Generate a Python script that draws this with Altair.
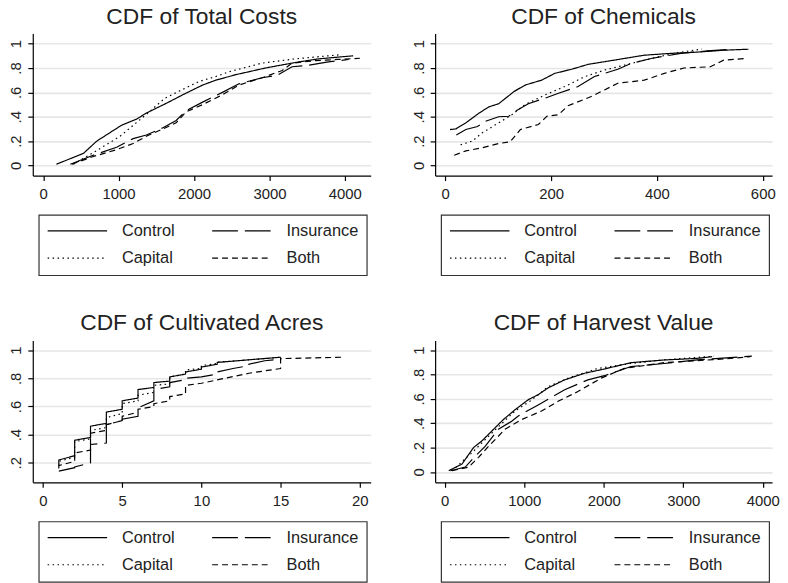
import altair as alt
import pandas as pd

FONT = "Liberation Sans"
TEXT = "#222222"
# legend entries fill column by column: Control, Capital | Insurance, Both
SERIES = ["Control", "Capital", "Insurance", "Both"]
DASHES = [[1, 0], [1.5, 3.5], [26, 7], [6, 4]]

# ---------------- CDF of Total Costs ----------------
TC_CONTROL_X = [175, 535, 710, 1039, 1237, 1368, 1632, 1851, 2114, 2289, 2553, 2947, 3342, 3649, 4110]
TC_CONTROL_Y = [0.01, 0.10, 0.20, 0.33, 0.38, 0.43, 0.51, 0.58, 0.66, 0.70, 0.745, 0.80, 0.845, 0.875, 0.90]
TC_INSUR_X = [360, 645, 974, 1193, 1368, 1588, 1763, 1895, 2114, 2377, 2596, 2904, 3100, 3300, 3500, 3781, 4050]
TC_INSUR_Y = [0.01, 0.08, 0.15, 0.22, 0.25, 0.31, 0.37, 0.45, 0.52, 0.60, 0.67, 0.72, 0.74, 0.81, 0.82, 0.85, 0.87]
TC_CAPITAL_X = [400, 650, 1020, 1370, 1610, 1900, 2070, 2290, 2470, 2900, 3340, 3960]
TC_CAPITAL_Y = [0.01, 0.10, 0.24, 0.42, 0.55, 0.64, 0.69, 0.73, 0.77, 0.84, 0.875, 0.91]
TC_BOTH_X = [380, 645, 974, 1193, 1368, 1588, 1763, 1895, 2114, 2377, 2596, 2904, 3170, 3300, 3600, 3900, 4200]
TC_BOTH_Y = [0.01, 0.07, 0.13, 0.18, 0.24, 0.30, 0.35, 0.44, 0.50, 0.58, 0.66, 0.72, 0.78, 0.84, 0.86, 0.87, 0.88]

# ---------------- CDF of Chemicals ----------------
CH_CONTROL_X = [9, 20, 39, 64, 82, 101, 130, 151, 182, 207, 239, 270, 320, 376, 426, 476, 526, 573]
CH_CONTROL_Y = [0.295, 0.30, 0.35, 0.43, 0.48, 0.507, 0.607, 0.66, 0.70, 0.756, 0.79, 0.83, 0.865, 0.905, 0.92, 0.93, 0.946, 0.954]
CH_INSUR_X = [21, 39, 61, 76, 101, 120, 132, 157, 189, 214, 251, 282, 326, 351, 389, 445, 495, 545]
CH_INSUR_Y = [0.25, 0.295, 0.32, 0.363, 0.40, 0.404, 0.444, 0.507, 0.553, 0.593, 0.648, 0.73, 0.79, 0.837, 0.878, 0.92, 0.94, 0.954]
CH_CAPITAL_X = [29, 51, 70, 101, 126, 151, 189, 226, 264, 301, 351, 401, 445, 485]
CH_CAPITAL_Y = [0.17, 0.20, 0.268, 0.35, 0.417, 0.50, 0.58, 0.648, 0.73, 0.783, 0.837, 0.89, 0.93, 0.955]
CH_BOTH_X = [17, 39, 70, 101, 123, 142, 176, 192, 214, 232, 276, 301, 326, 376, 414, 451, 501, 526, 567]
CH_BOTH_Y = [0.084, 0.12, 0.146, 0.18, 0.195, 0.295, 0.336, 0.404, 0.417, 0.49, 0.566, 0.62, 0.675, 0.70, 0.756, 0.80, 0.81, 0.864, 0.878]

# ---------------- CDF of Cultivated Acres ----------------
CA_CONTROL_X = [1, 1, 2, 2, 3, 3, 4, 4, 5, 5, 6, 6, 7, 7, 8, 8, 9, 9, 10, 10, 11, 11, 15]
CA_CONTROL_Y = [0.19, 0.22, 0.25, 0.36, 0.38, 0.46, 0.48, 0.56, 0.58, 0.64, 0.66, 0.72, 0.735, 0.77, 0.78, 0.81, 0.83, 0.845, 0.865, 0.88, 0.90, 0.913, 0.95]
CA_INSUR_X = [1, 2, 2, 3, 3, 4, 4, 5, 5, 6, 6, 7, 7, 8, 8, 9, 9, 10, 11, 11, 12, 13, 13, 14, 15, 15]
CA_INSUR_Y = [0.14, 0.165, 0.17, 0.20, 0.33, 0.34, 0.47, 0.50, 0.51, 0.53, 0.59, 0.64, 0.72, 0.74, 0.77, 0.79, 0.80, 0.81, 0.83, 0.845, 0.87, 0.89, 0.90, 0.925, 0.935, 0.95]
CA_CAPITAL_X = [1, 1, 2, 2, 3, 3, 4, 4, 5, 5, 6, 6, 7, 7, 8, 8, 9, 9, 10, 10, 11, 11, 14, 15]
CA_CAPITAL_Y = [0.18, 0.21, 0.24, 0.35, 0.37, 0.43, 0.45, 0.52, 0.55, 0.62, 0.64, 0.68, 0.70, 0.75, 0.76, 0.81, 0.83, 0.86, 0.87, 0.89, 0.905, 0.915, 0.94, 0.95]
CA_BOTH_X = [1, 1, 2, 2, 3, 3, 4, 4, 5, 5, 6, 6, 7, 7, 8, 8, 9, 9, 10, 13, 15, 15, 19]
CA_BOTH_Y = [0.16, 0.18, 0.21, 0.27, 0.29, 0.41, 0.43, 0.47, 0.50, 0.53, 0.56, 0.58, 0.60, 0.62, 0.64, 0.67, 0.69, 0.75, 0.765, 0.836, 0.87, 0.94, 0.95]

# ---------------- CDF of Harvest Value ----------------
HV_CONTROL_X = [50, 217, 362, 467, 592, 737, 883, 1050, 1175, 1300, 1508, 1758, 2008, 2342, 2758, 3175, 3362]
HV_CONTROL_Y = [0.01, 0.065, 0.20, 0.255, 0.336, 0.43, 0.51, 0.593, 0.634, 0.69, 0.756, 0.81, 0.845, 0.897, 0.919, 0.932, 0.946]
HV_INSUR_X = [71, 258, 383, 508, 675, 842, 925, 1175, 1508, 1800, 2008, 2342, 2758, 3175, 3862]
HV_INSUR_Y = [0.01, 0.04, 0.13, 0.21, 0.35, 0.417, 0.46, 0.55, 0.675, 0.756, 0.79, 0.865, 0.89, 0.92, 0.95]
HV_CAPITAL_X = [92, 362, 592, 883, 1092, 1300, 1592, 1925, 2342, 2758, 3383]
HV_CAPITAL_Y = [0.01, 0.17, 0.32, 0.50, 0.59, 0.70, 0.78, 0.85, 0.89, 0.92, 0.95]
HV_BOTH_X = [92, 300, 425, 550, 758, 967, 1217, 1425, 1675, 1967, 2258, 2758, 3175, 3592, 3842]
HV_BOTH_Y = [0.01, 0.04, 0.12, 0.21, 0.35, 0.43, 0.50, 0.58, 0.66, 0.77, 0.85, 0.897, 0.913, 0.932, 0.946]

Y_LABEL_EXPR = "datum.value == 1 ? '1' : datum.value == 0 ? '0' : substring(format(datum.value, '.1f'), 1)"


def panel(title, series_x, series_y, xdom, ydom, xticks, yticks, width, height, toff, ly):
    rows = []
    for name, sx, sy in zip(["Control", "Insurance", "Capital", "Both"], series_x, series_y):
        for i, (a, b) in enumerate(zip(sx, sy)):
            rows.append({"series": name, "x": a, "y": b, "i": i})
    df = pd.DataFrame(rows)
    return (
        alt.Chart(
            df,
            title=alt.TitleParams(
                title, font=FONT, fontSize=23, fontWeight="normal", color=TEXT,
                anchor="middle", frame="group", offset=toff,
            ),
        )
        .mark_line(color="black", strokeWidth=1.2)
        .encode(
            x=alt.X(
                "x:Q", title=None,
                scale=alt.Scale(domain=xdom, nice=False, zero=False),
                axis=alt.Axis(values=xticks, format="d", grid=False, labelPadding=6,
                              labelFlush=False, labelOverlap=False),
            ),
            y=alt.Y(
                "y:Q", title=None,
                scale=alt.Scale(domain=ydom, nice=False, zero=False),
                axis=alt.Axis(values=yticks, labelExpr=Y_LABEL_EXPR, labelAngle=270,
                              labelAlign="center", labelBaseline="bottom", labelPadding=4,
                              grid=True, labelFlush=False, labelOverlap=False),
            ),
            strokeDash=alt.StrokeDash(
                "series:N",
                scale=alt.Scale(domain=SERIES, range=DASHES),
                legend=alt.Legend(
                    title=None, orient="none", legendX=6, legendY=ly, columns=2,
                    symbolType="stroke", symbolSize=3600, symbolStrokeWidth=1.2,
                    symbolStrokeColor="black", labelFont=FONT, labelFontSize=16.5,
                    labelColor=TEXT, labelOffset=14, columnPadding=36, rowPadding=10.7,
                    padding=8, strokeColor="#333333", fillColor="white", clipHeight=16,
                    labelLimit=0,
                ),
            ),
            order=alt.Order("i:Q"),
        )
        .properties(width=width, height=height)
    )


p1 = panel("CDF of Total Costs",
           [TC_CONTROL_X, TC_INSUR_X, TC_CAPITAL_X, TC_BOTH_X],
           [TC_CONTROL_Y, TC_INSUR_Y, TC_CAPITAL_Y, TC_BOTH_Y],
           [-138, 4343], [-0.083, 1.084], [0, 1000, 2000, 3000, 4000],
           [0, 0.2, 0.4, 0.6, 0.8, 1], 341, 143.5, 4, 183)
p2 = panel("CDF of Chemicals",
           [CH_CONTROL_X, CH_INSUR_X, CH_CAPITAL_X, CH_BOTH_X],
           [CH_CONTROL_Y, CH_INSUR_Y, CH_CAPITAL_Y, CH_BOTH_Y],
           [-19.1, 617.6], [-0.083, 1.084], [0, 200, 400, 600],
           [0, 0.2, 0.4, 0.6, 0.8, 1], 340, 143.5, 4, 183)
p3 = panel("CDF of Cultivated Acres",
           [CA_CONTROL_X, CA_INSUR_X, CA_CAPITAL_X, CA_BOTH_X],
           [CA_CONTROL_Y, CA_INSUR_Y, CA_CAPITAL_Y, CA_BOTH_Y],
           [-0.645, 20.69], [0.061, 1.068], [0, 5, 10, 15, 20],
           [0.2, 0.4, 0.6, 0.8, 1], 341, 143, 6, 182.5)
p4 = panel("CDF of Harvest Value",
           [HV_CONTROL_X, HV_INSUR_X, HV_CAPITAL_X, HV_BOTH_X],
           [HV_CONTROL_Y, HV_INSUR_Y, HV_CAPITAL_Y, HV_BOTH_Y],
           [-121, 4116], [-0.085, 1.078], [0, 1000, 2000, 3000, 4000],
           [0, 0.2, 0.4, 0.6, 0.8, 1], 340, 143, 6, 182.5)

chart = (
    alt.concat(p1, p2, p3, p4, columns=2, spacing={"row": 166, "column": 65}, bounds="flush")
    .resolve_scale(strokeDash="independent")
    .resolve_legend(strokeDash="independent")
    .properties(padding={"left": 0, "top": -4, "right": 0, "bottom": 0}, background="white")
    .configure_view(stroke=None)
    .configure_axis(
        domainColor="black", domainWidth=1.2, tickColor="black", tickWidth=1.2, tickSize=5,
        labelFont=FONT, labelFontSize=15, labelColor=TEXT,
        gridColor="#e6e6e6", gridWidth=1.6,
    )
    .configure_legend(strokeWidth=1.2)
)

chart.save("out.html", embed_options={"renderer": "svg", "actions": False})
